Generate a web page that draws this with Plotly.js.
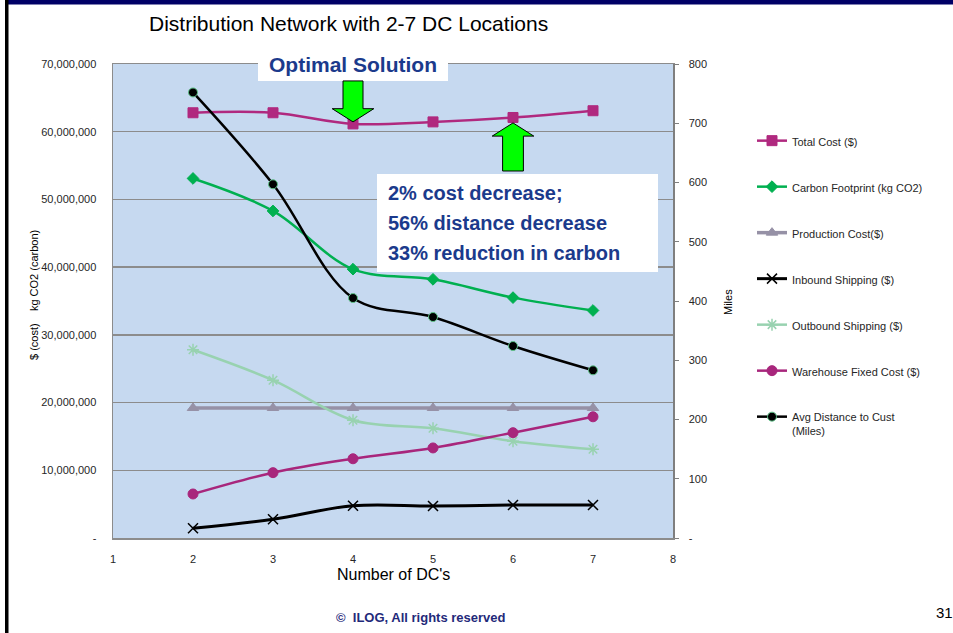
<!DOCTYPE html>
<html>
<head>
<meta charset="utf-8">
<script src="https://cdn.plot.ly/plotly-3.0.1.min.js"></script>
<style>
  html, body { margin: 0; padding: 0; background: #ffffff; }
  #chart { width: 953px; height: 633px; }
</style>
</head>
<body>
<div id="chart"></div>
<script>
// Number of distribution centres on the x axis
const dcCounts = [2, 3, 4, 5, 6, 7];

// Cost series ($) and carbon (kg CO2), left axis
const totalCost       = [62800000, 62800000, 61150000, 61450000, 62100000, 63100000];
const carbonFootprint = [53100000, 48300000, 39700000, 38200000, 35500000, 33600000];
const productionCost  = [19200000, 19200000, 19200000, 19200000, 19200000, 19200000];
const inboundShipping = [1430000, 2760000, 4770000, 4730000, 4870000, 4870000];
const outboundShipping = [27800000, 23300000, 17400000, 16200000, 14300000, 13100000];
const warehouseFixed  = [6500000, 9650000, 11700000, 13300000, 15550000, 17900000];

// Average distance to customer (miles), right axis
const avgDistance = [752, 597, 405, 373, 324, 283];

// Axis tick labels
const xTickVals = [1, 2, 3, 4, 5, 6, 7, 8];
const costTickVals = [0, 10000000, 20000000, 30000000, 40000000, 50000000, 60000000, 70000000];
const costTickText = ['-', '10,000,000', '20,000,000', '30,000,000', '40,000,000', '50,000,000', '60,000,000', '70,000,000'];
const milesTickVals = [0, 100, 200, 300, 400, 500, 600, 700, 800];
const milesTickText = ['-', '100', '200', '300', '400', '500', '600', '700', '800'];

const SANS = '"Liberation Sans", Arial, sans-serif';
const NAVY = '#1B3A8C';

function series(name, y, color, symbol, size, opts) {
  opts = opts || {};
  return {
    type: 'scatter',
    mode: 'lines+markers',
    name: name,
    x: dcCounts,
    y: y,
    yaxis: opts.yaxis || 'y',
    legendgroup: name,
    line: { color: color, width: opts.lw || 2.5, shape: 'spline', smoothing: 1 },
    marker: {
      symbol: symbol,
      size: size,
      color: opts.mcolor || color,
      line: { color: opts.mline || color, width: opts.mlw === undefined ? 1 : opts.mlw }
    }
  };
}

const traces = [
  series('Total Cost ($)', totalCost, '#B0297F', 'square', 10),
  series('Carbon Footprint (kg CO2)', carbonFootprint, '#00B050', 'diamond', 9),
  series('Production Cost($)', productionCost, '#9691A6', 'triangle-up', 10, { lw: 3.5 }),
  series('Inbound Shipping ($)', inboundShipping, '#000000', 'x-thin-open', 10, { lw: 3, mlw: 1.5 }),
  series('Outbound Shipping ($)', outboundShipping, '#98D2B0', 'asterisk-open', 10, { mlw: 1.5 }),
  series('Warehouse Fixed Cost ($)', warehouseFixed, '#A8267C', 'circle', 10),
  series('Avg Distance to Cust<br>(Miles)', avgDistance, '#000000', 'circle', 9,
         { yaxis: 'y2', mline: '#5FC48A', mlw: 1, lw: 2.5 })
];

// paper-coordinate helpers for page furniture (plot box spans 113..673 x, 64..538 y)
const px = v => (v - 113) / 560;
const py = v => (538 - v) / 474;

function label(text, x, y, size, opts) {
  opts = opts || {};
  return {
    xref: 'paper', yref: 'paper', x: px(x), y: py(y), text: text,
    showarrow: false, xanchor: opts.xanchor || 'center', yanchor: 'middle',
    textangle: opts.angle || 0,
    font: { family: SANS, size: size, color: opts.color || '#000000' }
  };
}

const layout = {
  width: 953,
  height: 633,
  margin: { l: 113, r: 280, t: 64, b: 95, autoexpand: false },
  paper_bgcolor: '#ffffff',
  plot_bgcolor: '#C6D9F0',
  font: { family: SANS, color: '#262626', size: 11 },
  showlegend: true,
  legend: {
    x: px(752), xanchor: 'left',
    y: py(127), yanchor: 'top',
    bgcolor: 'rgba(0,0,0,0)',
    font: { family: SANS, size: 11, color: '#262626' },
    tracegroupgap: 27,
    itemwidth: 30,
    valign: 'top'
  },
  xaxis: {
    range: [1, 8],
    tickvals: xTickVals,
    ticktext: xTickVals.map(String),
    showgrid: false,
    zeroline: false,
    showline: true,
    mirror: true,
    linecolor: '#8C8C8C',
    linewidth: 1.5,
    ticks: '',
    ticklabelstandoff: 10,
    tickfont: { family: SANS, size: 11, color: '#262626' }
  },
  yaxis: {
    range: [0, 70000000],
    tickvals: costTickVals,
    ticktext: costTickText,
    showgrid: true,
    gridcolor: '#8C8C8C',
    gridwidth: 1.5,
    zeroline: false,
    showline: true,
    mirror: true,
    linecolor: '#8C8C8C',
    linewidth: 1.5,
    ticks: '',
    ticklabelstandoff: 13,
    tickfont: { family: SANS, size: 11, color: '#262626' }
  },
  yaxis2: {
    overlaying: 'y',
    side: 'right',
    range: [0, 800],
    tickvals: milesTickVals,
    ticktext: milesTickText,
    showgrid: false,
    zeroline: false,
    showline: true,
    linecolor: '#7F7F7F',
    linewidth: 1.5,
    ticks: 'outside',
    ticklen: 4,
    tickcolor: '#7F7F7F',
    ticklabelstandoff: 8,
    tickfont: { family: SANS, size: 11, color: '#262626' }
  },
  shapes: [
    // slide frame
    { type: 'rect', xref: 'paper', yref: 'paper', x0: px(8), x1: px(953), y0: py(4.5), y1: py(0),
      fillcolor: '#000066', line: { width: 0 }, layer: 'above' },
    { type: 'rect', xref: 'paper', yref: 'paper', x0: px(5), x1: px(8.5), y0: py(633), y1: py(0),
      fillcolor: '#000000', line: { width: 0 }, layer: 'above' },
    // "Optimal Solution" label box
    { type: 'rect', xref: 'paper', yref: 'paper', x0: px(258), x1: px(448), y0: py(81), y1: py(50),
      fillcolor: '#ffffff', line: { width: 0 }, layer: 'above' },
    // summary box
    { type: 'rect', xref: 'paper', yref: 'paper', x0: px(377), x1: px(658), y0: py(272), y1: py(174),
      fillcolor: '#ffffff', line: { width: 0 }, layer: 'above' },
    // down arrow onto the 4-DC optimum
    { type: 'path', xref: 'x', yref: 'y', layer: 'above',
      path: 'M 3.875 67500000 L 4.125 67500000 L 4.125 63400000 L 4.26 63400000 L 4 61450000 ' +
            'L 3.74 63400000 L 3.875 63400000 Z',
      fillcolor: '#00FF00', line: { color: '#000000', width: 1 } },
    // up arrow from the summary box to 6 DCs
    { type: 'path', xref: 'x', yref: 'y', layer: 'above',
      path: 'M 5.87 54200000 L 6.13 54200000 L 6.13 59350000 L 6.26 59350000 L 6 61300000 ' +
            'L 5.74 59350000 L 5.87 59350000 Z',
      fillcolor: '#00FF00', line: { color: '#000000', width: 1 } }
  ],
  annotations: [
    label('Distribution Network with 2-7 DC Locations', 348, 23, 21),
    label("Number of DC's", 393, 574, 16),
    label('$ (cost)\u00a0\u00a0\u00a0\u00a0kg CO2 (carbon)', 34, 295, 11, { angle: -90 }),
    label('Miles', 728, 302, 11, { angle: -90 }),
    label('<b>Optimal Solution</b>', 353, 65, 21, { color: NAVY }),
    label('<b>2% cost decrease;</b>', 386, 193, 20, { color: NAVY, xanchor: 'left' }),
    label('<b>56% distance decrease</b>', 386, 223, 20, { color: NAVY, xanchor: 'left' }),
    label('<b>33% reduction in carbon</b>', 386, 253, 20, { color: NAVY, xanchor: 'left' }),
    label('<b>\u00a9  ILOG, All rights reserved</b>', 421, 617, 13, { color: '#1F2A7A' }),
    label('31', 944, 612, 15)
  ]
};

Plotly.newPlot('chart', traces, layout, { displayModeBar: false, staticPlot: true });
</script>
</body>
</html>
